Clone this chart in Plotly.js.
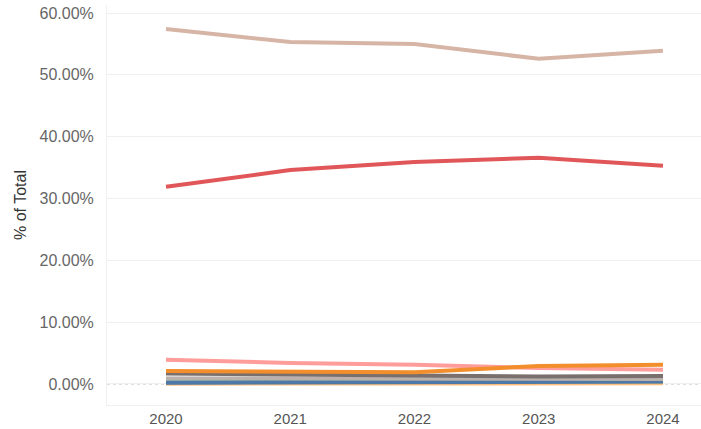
<!DOCTYPE html>
<html>
<head>
<meta charset="utf-8">
<script src="https://cdn.plot.ly/plotly-3.0.1.min.js"></script>
<style>html,body{margin:0;padding:0;background:#fff;}#chart{width:701px;height:429px;}</style>
</head>
<body>
<div id="chart"></div>
<script>
const years = ['2020', '2021', '2022', '2023', '2024'];
const tanSeries = [57.4, 55.3, 55.0, 52.6, 53.9];
const redSeries = [31.9, 34.6, 35.9, 36.6, 35.3];
const pinkSeries = [3.9, 3.4, 3.1, 2.6, 2.3];
const orangeSeries = [2.1, 2.0, 1.9, 2.9, 3.1];
const graySeries = [1.7, 1.5, 1.3, 1.2, 1.3];
const lightGraySeries = [0.9, 0.85, 0.8, 0.8, 0.8];
const lightOrangeSeries = [0.05, 0.05, 0.05, 0.1, 0.1];
const tealSeries = [0.3, 0.3, 0.35, 0.4, 0.45];
const blueSeries = [0.2, 0.25, 0.3, 0.35, 0.4];
const yTicks = [0, 10, 20, 30, 40, 50, 60];

const series = [
  {y: lightOrangeSeries, c: '#FFBE7D'},
  {y: tealSeries, c: '#499894'},
  {y: blueSeries, c: '#4E79A7'},
  {y: lightGraySeries, c: '#BAB0AC'},
  {y: graySeries, c: '#79706E'},
  {y: pinkSeries, c: '#FF9D9A'},
  {y: orangeSeries, c: '#F28E2B'},
  {y: redSeries, c: '#E15759'},
  {y: tanSeries, c: '#D7B5A6'}
];

const traces = series.map(s => ({
  x: years, y: s.y, type: 'scatter', mode: 'lines',
  line: {color: s.c, width: 4}, hoverinfo: 'skip', showlegend: false
}));

const layout = {
  width: 701, height: 429,
  margin: {l: 107, r: 0, t: 5, b: 24},
  paper_bgcolor: '#fff', plot_bgcolor: '#fff',
  font: {family: 'Liberation Sans, Arial, sans-serif', size: 16, color: '#666'},
  xaxis: {
    type: 'category', range: [-0.475, 4.306],
    showgrid: false, zeroline: false, showline: true, linecolor: '#f0f0f0', linewidth: 1,
    ticks: '', ticklabelstandoff: 0,
    tickfont: {size: 15, color: '#555'}
  },
  yaxis: {
    range: [-3.4, 61.3], tickvals: yTicks,
    ticktext: yTicks.map(v => v.toFixed(2) + '%'),
    showgrid: true, gridcolor: '#f0f0f0', zeroline: false,
    showline: true, linecolor: '#f0f0f0', linewidth: 1,
    ticks: '', ticklabelstandoff: 9,
    tickfont: {size: 16, color: '#666'},
    title: {text: '% of Total', font: {size: 16, color: '#333'}, standoff: 8}
  },
  shapes: [{
    type: 'line', xref: 'paper', x0: 0, x1: 1, yref: 'y', y0: 0, y1: 0,
    line: {color: '#bbb', width: 1, dash: 'dot'}, layer: 'below'
  }]
};

Plotly.newPlot('chart', traces, layout, {displayModeBar: false, staticPlot: true});
</script>
</body>
</html>
